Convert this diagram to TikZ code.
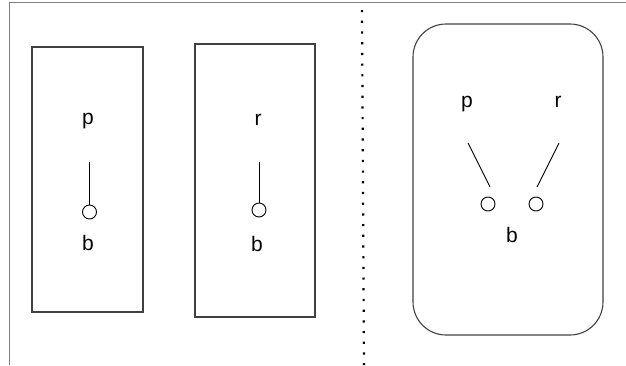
\documentclass[tikz,border=0pt]{standalone}
\usepackage{fontspec}
\setmainfont{Liberation Sans}
\begin{document}
\begin{tikzpicture}[x=1pt,y=-1pt,
  frame/.style={draw=black!75,line width=1.1pt},
  lbl/.style={font=\fontsize{21}{24}\selectfont,inner sep=0pt,anchor=base},
  knob/.style={circle,draw,line width=0.9pt,minimum size=14pt,inner sep=0pt},
  stick/.style={line width=0.9pt},
  edge/.style={draw=black!50,line width=0.8pt}]
\useasboundingbox (0,0) rectangle (626,365);
% page edges
\coordinate (tl) at (9.5,2);
\coordinate (tr) at (626,2);
\coordinate (bl) at (9.5,365);
\draw[edge] (bl) -- (tl) -- (tr);
% first box: p over b
\node[frame,rectangle,minimum width=111pt,minimum height=265pt,inner sep=0pt] (boxA) at (87.5,179.5) {};
\node[lbl] (pA) at (88,124) {p};
\coordinate (sA1) at (89.5,162);
\node[knob] (cA) at (89.5,212) {};
\draw[stick] (sA1) -- (cA.north);
\node[lbl] (bA) at (88,250) {b};
% second box: r over b
\node[frame,rectangle,minimum width=120pt,minimum height=273pt,inner sep=0pt] (boxB) at (255,180.5) {};
\node[lbl] (rA) at (258,125) {r};
\coordinate (sB1) at (259,162);
\node[knob] (cB) at (259,210) {};
\draw[stick] (sB1) -- (cB.north);
\node[lbl] (bB) at (257,251) {b};
% separator
\coordinate (d1) at (362,10);
\coordinate (d2) at (364,365);
\draw[line width=2.2pt,dash pattern=on 2.2pt off 8.5pt] (d1) -- (d2);
% rounded box: p and r share b
\node[frame,rectangle,rounded corners=33pt,minimum width=190pt,minimum height=311pt,inner sep=0pt] (boxC) at (508,179.5) {};
\node[lbl] (pC) at (467,107) {p};
\node[lbl] (rC) at (558,107) {r};
\node[knob] (cC1) at (488,204) {};
\node[knob] (cC2) at (536,204) {};
\coordinate (sC1) at (468,143);
\coordinate (sC2) at (559,143);
\coordinate (eC1) at (490,187);
\coordinate (eC2) at (537,187);
\draw[stick] (sC1) -- (eC1);
\draw[stick] (sC2) -- (eC2);
\node[lbl] (bC) at (512,242) {b};
\end{tikzpicture}
\end{document}
